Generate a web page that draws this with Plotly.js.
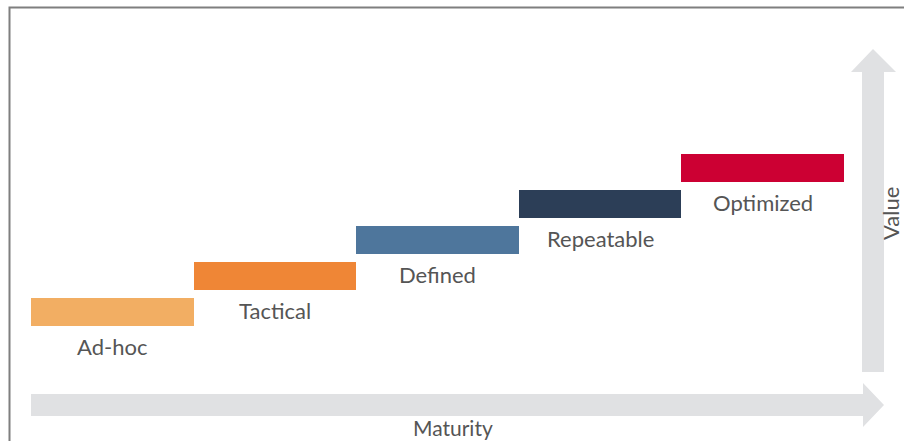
<!DOCTYPE html>
<html>
<head>
<meta charset="utf-8">
<script src="https://cdn.plot.ly/plotly-3.0.1.min.js"></script>
<style>html,body{margin:0;padding:0;background:#fff;}#chart{width:904px;height:441px;}</style>
</head>
<body>
<div id="chart"></div>
<script>
// ---- data ----
var categories = ['Ad-hoc', 'Tactical', 'Defined', 'Repeatable', 'Optimized'];
var levels = [1, 2, 3, 4, 5];
var barColors = ['#F2AE63', '#EF8636', '#4E769C', '#2C3E57', '#CC0033'];
var xAxisLabel = 'Maturity';
var yAxisLabel = 'Value';

// ---- geometry helpers (pixel -> data) ----
var W = 904, H = 441;
var xUnit = 162.6, xOrigin = 31;   // px of x=0
var yUnit = 36, yOrigin = 326;     // px of y=0
function px2x(p) { return (p - xOrigin) / xUnit; }
function px2y(p) { return (yOrigin - p) / yUnit; }
var barThick = 28 / 36;

var xs = categories.map(function (c, i) { return i + 0.5; });
var bases = levels.map(function (l) { return l - 1; });

var trace = {
  type: 'bar',
  x: xs,
  y: levels.map(function () { return barThick; }),
  base: bases,
  width: 1,
  marker: { color: barColors, line: { width: 0 } },
  hoverinfo: 'text',
  text: categories,
  textposition: 'none'
};

function P(x, y) { return px2x(x) + ',' + px2y(y); }
var arrowColor = '#E0E1E3';
var hArrow = 'M' + P(31, 394) + ' L' + P(863, 394) + ' L' + P(863, 383) + ' L' + P(884, 405) +
  ' L' + P(863, 427) + ' L' + P(863, 416) + ' L' + P(31, 416) + ' Z';
var vArrow = 'M' + P(862, 372) + ' L' + P(862, 72) + ' L' + P(851, 72) + ' L' + P(873, 49) +
  ' L' + P(896, 72) + ' L' + P(884, 72) + ' L' + P(884, 372) + ' Z';

var shapes = [
  { type: 'rect', xref: 'paper', yref: 'paper', x0: 9.5 / W, x1: 1.2, y0: -0.2, y1: 1 - 7.5 / H,
    line: { color: '#7F7F7F', width: 2 }, fillcolor: 'rgba(0,0,0,0)', layer: 'below' },
  { type: 'path', path: hArrow, fillcolor: arrowColor, line: { width: 0 }, layer: 'below' },
  { type: 'path', path: vArrow, fillcolor: arrowColor, line: { width: 0 }, layer: 'below' }
];

var fam = 'Lato, "Open Sans", sans-serif';
var font = { family: fam, size: 22, color: '#555555' };
var annotations = categories.map(function (c, i) {
  return { x: xs[i], y: bases[i], text: c, showarrow: false, xanchor: 'center', yanchor: 'middle',
    yshift: -20, font: font };
});
annotations.push({ x: px2x(453), y: px2y(427), text: xAxisLabel, showarrow: false, xanchor: 'center',
  yanchor: 'middle', font: { family: fam, size: 21, color: '#555555' } });
annotations.push({ x: px2x(890), y: px2y(214), text: yAxisLabel, showarrow: false, textangle: -90,
  xanchor: 'center', yanchor: 'middle', font: { family: fam, size: 22, color: '#555555' } });

var layout = {
  width: W, height: H,
  margin: { l: 0, r: 0, t: 0, b: 0, pad: 0 },
  paper_bgcolor: '#ffffff', plot_bgcolor: '#ffffff',
  showlegend: false,
  xaxis: { range: [px2x(0), px2x(W)], visible: false, fixedrange: true },
  yaxis: { range: [px2y(H), px2y(0)], visible: false, fixedrange: true },
  shapes: shapes,
  annotations: annotations,
  bargap: 0
};

Plotly.newPlot('chart', [trace], layout, { displayModeBar: false, staticPlot: true });
</script>
</body>
</html>
